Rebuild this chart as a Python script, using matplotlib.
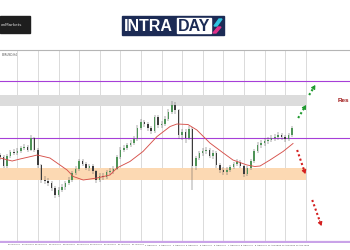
import matplotlib
matplotlib.use("Agg")
import matplotlib.pyplot as plt
from matplotlib.patches import Rectangle, Polygon

# H4 candles, EURUSD-like prices
opens = [1.1690, 1.1686, 1.1668, 1.1688, 1.1696, 1.1694, 1.1698, 1.1704, 1.1706, 1.1700,
         1.1724, 1.1700, 1.1670, 1.1640, 1.1638, 1.1634, 1.1624, 1.1610, 1.1620, 1.1626,
         1.1634, 1.1640, 1.1654, 1.1662, 1.1678, 1.1672, 1.1664, 1.1668, 1.1658, 1.1640,
         1.1648, 1.1646, 1.1656, 1.1658, 1.1662, 1.1686, 1.1700, 1.1704, 1.1710, 1.1714,
         1.1722, 1.1744, 1.1756, 1.1752, 1.1744, 1.1738, 1.1766, 1.1750, 1.1752, 1.1762,
         1.1776, 1.1790, 1.1780, 1.1730, 1.1736, 1.1724, 1.1742, 1.1668, 1.1684, 1.1694,
         1.1698, 1.1700, 1.1688, 1.1694, 1.1670, 1.1660, 1.1656, 1.1660, 1.1666, 1.1672,
         1.1676, 1.1668, 1.1652, 1.1664, 1.1678, 1.1698, 1.1710, 1.1714, 1.1718, 1.1720,
         1.1724, 1.1726, 1.1730, 1.1726, 1.1722, 1.1730]
closes = [1.1686, 1.1668, 1.1688, 1.1696, 1.1694, 1.1698, 1.1704, 1.1706, 1.1700, 1.1724,
          1.1700, 1.1670, 1.1640, 1.1638, 1.1634, 1.1624, 1.1610, 1.1620, 1.1626, 1.1634,
          1.1640, 1.1654, 1.1662, 1.1678, 1.1672, 1.1664, 1.1668, 1.1658, 1.1640, 1.1648,
          1.1646, 1.1656, 1.1658, 1.1662, 1.1686, 1.1700, 1.1704, 1.1710, 1.1714, 1.1722,
          1.1744, 1.1756, 1.1752, 1.1744, 1.1738, 1.1766, 1.1750, 1.1752, 1.1762, 1.1776,
          1.1790, 1.1780, 1.1730, 1.1736, 1.1724, 1.1742, 1.1668, 1.1684, 1.1694, 1.1698,
          1.1700, 1.1688, 1.1694, 1.1670, 1.1660, 1.1656, 1.1660, 1.1666, 1.1672, 1.1676,
          1.1668, 1.1652, 1.1664, 1.1678, 1.1698, 1.1710, 1.1714, 1.1718, 1.1720, 1.1724,
          1.1726, 1.1730, 1.1726, 1.1722, 1.1730, 1.1744]
highs = [1.1694, 1.1690, 1.1692, 1.1700, 1.1702, 1.1704, 1.1708, 1.1712, 1.1710, 1.1730,
         1.1726, 1.1704, 1.1672, 1.1648, 1.1644, 1.1638, 1.1628, 1.1626, 1.1632, 1.1638,
         1.1646, 1.1658, 1.1668, 1.1682, 1.1682, 1.1676, 1.1672, 1.1672, 1.1660, 1.1654,
         1.1654, 1.1660, 1.1664, 1.1668, 1.1690, 1.1706, 1.1710, 1.1714, 1.1720, 1.1728,
         1.1750, 1.1762, 1.1760, 1.1756, 1.1748, 1.1770, 1.1770, 1.1758, 1.1768, 1.1782,
         1.1798, 1.1796, 1.1782, 1.1742, 1.1742, 1.1748, 1.1746, 1.1688, 1.1698, 1.1704,
         1.1706, 1.1704, 1.1700, 1.1698, 1.1674, 1.1666, 1.1666, 1.1670, 1.1676, 1.1682,
         1.1680, 1.1670, 1.1668, 1.1682, 1.1702, 1.1716, 1.1720, 1.1724, 1.1726, 1.1730,
         1.1732, 1.1736, 1.1734, 1.1730, 1.1734, 1.1748]
lows = [1.1680, 1.1664, 1.1664, 1.1684, 1.1690, 1.1690, 1.1694, 1.1700, 1.1696, 1.1698,
        1.1696, 1.1664, 1.1634, 1.1632, 1.1628, 1.1618, 1.1604, 1.1606, 1.1616, 1.1620,
        1.1630, 1.1636, 1.1650, 1.1658, 1.1668, 1.1660, 1.1658, 1.1652, 1.1634, 1.1636,
        1.1640, 1.1642, 1.1650, 1.1652, 1.1660, 1.1682, 1.1696, 1.1700, 1.1706, 1.1710,
        1.1718, 1.1740, 1.1746, 1.1738, 1.1732, 1.1734, 1.1744, 1.1744, 1.1748, 1.1758,
        1.1772, 1.1772, 1.1722, 1.1720, 1.1714, 1.1720, 1.1620, 1.1660, 1.1680, 1.1688,
        1.1692, 1.1684, 1.1682, 1.1664, 1.1654, 1.1650, 1.1650, 1.1656, 1.1662, 1.1668,
        1.1664, 1.1646, 1.1648, 1.1660, 1.1674, 1.1694, 1.1704, 1.1708, 1.1712, 1.1716,
        1.1718, 1.1720, 1.1720, 1.1716, 1.1718, 1.1726]

# moving average (red line), bar index -> price
ma_bar = [0, 3.5, 5.8, 9.6, 10.8, 14.5, 19.5, 21.3, 24.2, 28.2, 32, 34, 37.8, 41.6,
          45.7, 49.5, 51.5, 54.7, 57.3, 61.1, 65, 67.8, 71.9, 74.2, 75.7, 78.6, 82.4, 85.3]
ma_val = [1.1684, 1.1678, 1.1682, 1.1688, 1.1690, 1.1684, 1.1660, 1.1647, 1.1640, 1.1644,
          1.1650, 1.1664, 1.1677, 1.1697, 1.1727, 1.1747, 1.1752, 1.1751, 1.1740, 1.1714,
          1.1694, 1.1680, 1.1670, 1.1667, 1.1668, 1.1680, 1.1697, 1.1713]

# levels
res_line = 1.1838
res_zone = (1.1788, 1.1810)
mid_line = 1.1725
sup_zone = (1.1641, 1.1665)
low_line = 1.1517
zone_end = 89

# scenario arrows (start bar, start price, end bar, end price)
up_arrows = [(86.8, 1.1764, 89.1, 1.1790), (90.0, 1.1810, 91.8, 1.1830)]
down_arrows = [(86.5, 1.1700, 88.9, 1.1652), (90.9, 1.1600, 93.6, 1.1548)]

tick_pos = list(range(4, 89, 4))
tick_labels = ["23 Jul 16:00", "24 Jul 08:00", "25 Jul 00:00", "25 Jul 16:00",
               "28 Jul 08:00", "29 Jul 00:00", "29 Jul 16:00", "30 Jul 08:00", "31 Jul 00:00",
               "31 Jul 16:00", "1 Aug 08:00", "4 Aug 00:00", "4 Aug 16:00", "5 Aug 08:00",
               "6 Aug 00:00", "6 Aug 16:00", "7 Aug 08:00", "8 Aug 00:00", "8 Aug 16:00",
               "11 Aug 08:00", "12 Aug 00:00", "12 Aug 16:00"]
grid_pos = list(range(5, 90, 6))

fig = plt.figure(figsize=(3.5, 2.5), dpi=100)
ax = fig.add_axes([0, 0.028, 1, 0.772])
ax.set_xlim(-0.04, 101.9)
ax.set_ylim(1.1514, 1.19)

for g in grid_pos:
    ax.axvline(g, color="#d4d4d4", lw=0.6, zorder=0)

ax.fill_between([-1, zone_end], res_zone[0], res_zone[1], color="#dcdcdc", lw=0, zorder=1)
ax.fill_between([-1, zone_end], sup_zone[0], sup_zone[1], color="#fcd9b3", lw=0, zorder=1)
ax.axhline(res_line, color="#a63fd8", lw=0.8, zorder=2)
ax.axhline(mid_line, color="#a63fd8", lw=0.8, zorder=2)
ax.axhline(low_line, color="#c9a3e8", lw=1.6, zorder=2)

# candles
for i in range(len(closes)):
    up = closes[i] >= opens[i]
    col = "#4f9458" if up else "#3c3c3c"
    ax.vlines(i, lows[i], highs[i], color="#555555", lw=0.35, zorder=3)
    ax.bar(i, abs(closes[i] - opens[i]) or 0.00008, bottom=min(opens[i], closes[i]),
           width=0.45, color=col, lw=0, zorder=4)

ax.plot(ma_bar, ma_val, color="#d6504a", lw=0.65, zorder=5)

for (x0, y0, x1, y1), col in [(a, "#1f9a2f") for a in up_arrows] + [(a, "#d41f1f") for a in down_arrows]:
    ax.plot([x0, x0 + (x1 - x0) * 0.8], [y0, y0 + (y1 - y0) * 0.8], color=col,
            lw=1.5, linestyle=(0, (1, 1.2)), zorder=6)
    ax.annotate("", xy=(x1, y1), xytext=(x0 + (x1 - x0) * 0.8, y0 + (y1 - y0) * 0.8),
                arrowprops=dict(arrowstyle="-|>,head_length=0.22,head_width=0.13",
                                color=col, lw=0.8, shrinkA=0, shrinkB=0), zorder=6)

ax.text(98.4, 1.1800, "Res", color="#a11d1d", fontsize=4.6, fontweight="bold",
        va="center", ha="left", family="Liberation Sans", zorder=7)
ax.text(0.5, 1.1895, "EURUSD,H4", fontsize=2, color="#555555", va="top")

ax.set_yticks([])
ax.set_xticks(tick_pos)
ax.set_xticklabels(tick_labels, fontsize=1.4, color="#333333")
ax.tick_params(axis="x", length=0, pad=1)
for s in ["left", "right", "bottom"]:
    ax.spines[s].set_visible(False)
ax.spines["top"].set_color("#b5b5b5")
ax.spines["top"].set_linewidth(0.8)

# broker logo (top left) and INTRADAY logo
fig.patches.append(Rectangle((0, 1 - 33 / 250), 30 / 350, 17 / 250, transform=fig.transFigure,
                             color="#1e1e1e", figure=fig))
fig.text(1 / 350, 1 - 24.5 / 250, "enMarkets", color="#dddddd", fontsize=3, va="center")

fig.patches.append(Rectangle((122 / 350, 1 - 35 / 250), 102 / 350, 19 / 250,
                             transform=fig.transFigure, color="#1c2b55", figure=fig))
fig.patches.append(Rectangle((177 / 350, 1 - 33 / 250), 34 / 350, 15 / 250,
                             transform=fig.transFigure, color="white", figure=fig))
fig.text(124 / 350, 1 - 26.5 / 250, "INTRA", color="white", fontsize=11.5,
         fontweight="bold", family="Liberation Sans", va="center", ha="left")
fig.text(194 / 350, 1 - 26.5 / 250, "DAY", color="#1c2b55", fontsize=11.5,
         fontweight="bold", family="Liberation Sans", va="center", ha="center")
fig.patches.append(Polygon([(214 / 350, 1 - 26 / 250), (219 / 350, 1 - 19 / 250),
                            (222 / 350, 1 - 19 / 250), (217 / 350, 1 - 26 / 250)],
                           closed=True, transform=fig.transFigure, color="#2ec4e0", figure=fig))
fig.patches.append(Polygon([(213 / 350, 1 - 33 / 250), (218 / 350, 1 - 27 / 250),
                            (221 / 350, 1 - 27 / 250), (216 / 350, 1 - 33 / 250)],
                           closed=True, transform=fig.transFigure, color="#e0308a", figure=fig))

fig.savefig("out.png", dpi=100)
